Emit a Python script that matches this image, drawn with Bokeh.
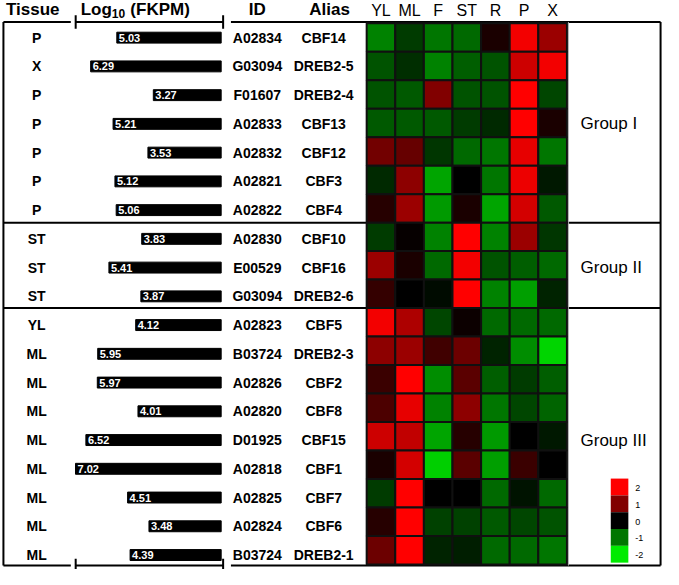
from bokeh.plotting import figure
from bokeh.models import Range1d, LinearColorMapper, ColumnDataSource
from bokeh.transform import transform
from bokeh.core.properties import value
from bokeh.embed import file_html
from bokeh.resources import INLINE

# ---------------- data ----------------
tissues = ["P", "X", "P", "P", "P", "P", "P", "ST", "ST", "ST",
           "YL", "ML", "ML", "ML", "ML", "ML", "ML", "ML", "ML"]
fkpm = [5.03, 6.29, 3.27, 5.21, 3.53, 5.12, 5.06, 3.83, 5.41, 3.87,
        4.12, 5.95, 5.97, 4.01, 6.52, 7.02, 4.51, 3.48, 4.39]
gene_ids = ["A02834", "G03094", "F01607", "A02833", "A02832", "A02821", "A02822",
            "A02830", "E00529", "G03094", "A02823", "B03724", "A02826", "A02820",
            "D01925", "A02818", "A02825", "A02824", "B03724"]
aliases = ["CBF14", "DREB2-5", "DREB2-4", "CBF13", "CBF12", "CBF3", "CBF4",
           "CBF10", "CBF16", "DREB2-6", "CBF5", "DREB2-3", "CBF2", "CBF8",
           "CBF15", "CBF1", "CBF7", "CBF6", "DREB2-1"]
tissue_cols = ["YL", "ML", "F", "ST", "R", "P", "X"]
# heatmap values, one row per gene, columns follow tissue_cols
heat_values = [
    [-1.1, -0.5, -1.0, -0.9, 0.2, 1.9, 1.2],
    [-0.7, -0.4, -1.1, -0.8, -0.7, 1.6, 1.9],
    [-0.7, -0.75, 1.0, -0.7, -0.7, 2.0, -0.6],
    [-0.75, -0.75, -0.75, -0.5, -0.35, 2.0, 0.2],
    [0.9, 0.8, -0.45, -0.9, -1.0, 1.8, -1.0],
    [-0.35, 1.1, -1.4, 0.0, -1.0, 1.85, -0.2],
    [0.3, 1.2, -1.3, 0.2, -1.4, 1.65, -0.75],
    [-0.5, 0.05, -1.1, 2.0, -1.1, 1.2, -0.45],
    [1.2, 0.2, -0.9, 1.9, -0.7, -0.8, -0.9],
    [0.4, 0.0, -0.1, 2.0, -1.1, -1.35, -0.3],
    [1.9, 1.35, -0.6, 0.1, -0.9, -0.9, -0.9],
    [1.1, 1.2, 0.5, 0.85, -0.3, -1.2, -1.8],
    [0.45, 2.0, -1.2, 0.7, -0.8, -0.5, -0.8],
    [0.6, 1.8, -1.1, 1.1, -1.0, -0.6, -0.85],
    [1.6, 1.5, -1.4, 0.3, -1.3, 0.0, -0.2],
    [0.2, 1.65, -1.75, 0.7, -1.35, 0.45, 0.0],
    [-0.5, 2.0, 0.0, 0.0, -0.9, -0.15, -0.9],
    [0.3, 2.0, -0.55, -0.55, -0.75, -0.6, -0.7],
    [0.85, 2.0, -0.3, -0.25, -0.9, -0.9, -1.0],
]
group_names = ["Group I", "Group II", "Group III"]
group_sizes = [7, 3, 9]
legend_values = [2, 1, 0, -1, -2]

# ---------------- layout constants (reference pixel space) ----------------
W, H = 663, 569
X_LO, X_HI = 0, 679
Y_BOT, Y_TOP = 582, 0
HEAT_X0, HEAT_CW = 375.0, 29.3
HEAT_Y0, HEAT_RH = 23.3, 29.13
TXT_Y0, TXT_RH = 38.0, 29.4
BAR_RIGHT, BAR_UNIT = 226.0, 21.25
BOX_L, BOX_R, BOX_T, BOX_B = 3, 676, 22, 578
BRK_L, BRK_R = 77, 228
HEADER_Y = 9.5
FONT = value("Liberation Sans")


def mk_range(a, pa, b, pb, lo, hi):
    k = (b - a) / (pb - pa)
    return Range1d(start=a + (lo - pa) * k, end=a + (hi - pa) * k)


p = figure(width=W, height=H, x_range=Range1d(X_LO, X_HI), y_range=Range1d(Y_BOT, Y_TOP),
           output_backend="svg", toolbar_location=None, min_border=0,
           x_axis_location=None, y_axis_location=None, outline_line_color=None,
           background_fill_color="white", border_fill_color="white")
p.xgrid.visible = False
p.ygrid.visible = False

p.extra_x_ranges = {
    "hx": mk_range(0, HEAT_X0 + 0.5 * HEAT_CW, 1, HEAT_X0 + 1.5 * HEAT_CW, X_LO, X_HI),
    "bx": mk_range(0, BAR_RIGHT, 1, BAR_RIGHT - BAR_UNIT, X_LO, X_HI),
}
p.extra_y_ranges = {
    "hy": mk_range(0, HEAT_Y0 + 0.5 * HEAT_RH, 1, HEAT_Y0 + 1.5 * HEAT_RH, Y_BOT, Y_TOP),
    "ty": mk_range(0, TXT_Y0, 1, TXT_Y0 + TXT_RH, Y_BOT, Y_TOP),
}

# palette red-black-green
palette = []
N = 255
for i in range(N):
    v = -2 + 4 * i / (N - 1)
    if v >= 0:
        palette.append("#%02x%02x%02x" % (int(round(255 * v / 2)), 0, 0))
    else:
        palette.append("#%02x%02x%02x" % (0, int(round(235 * (-v) / 2)), 0))
mapper = LinearColorMapper(palette=palette, low=-2, high=2)

# ---------------- box lines ----------------
LW = 2
seg_x0 = [BOX_L, BOX_R, BOX_L, BRK_R + 8, BOX_L, BRK_R + 8, BRK_L, BRK_L, BRK_L, BRK_L, BRK_R, BRK_R]
seg_x1 = [BOX_L, BOX_R, BRK_L - 5, BOX_R, BRK_L - 5, BOX_R, BRK_R, BRK_R, BRK_L, BRK_L, BRK_R, BRK_R]
seg_y0 = [BOX_T, BOX_T, BOX_T, BOX_T, BOX_B, BOX_B, BOX_T, BOX_B, BOX_T - 7, BOX_B - 7, BOX_T - 7, BOX_B - 7]
seg_y1 = [BOX_B, BOX_B, BOX_T, BOX_T, BOX_B, BOX_B, BOX_T, BOX_B, BOX_T + 7, BOX_B + 7, BOX_T + 7, BOX_B + 7]
p.segment(x0=seg_x0, y0=seg_y0, x1=seg_x1, y1=seg_y1, line_color="black", line_width=LW)

# group separators
bounds = []
acc = 0
for s in group_sizes[:-1]:
    acc += s
    bounds.append(acc - 0.5)
p.segment(x0=[BOX_L] * len(bounds), x1=[BOX_R] * len(bounds), y0=bounds, y1=bounds,
          y_range_name="hy", line_color="black", line_width=LW)

# grey line right of heatmap
p.segment(x0=[HEAT_X0 + 7 * HEAT_CW + 1.5], x1=[HEAT_X0 + 7 * HEAT_CW + 1.5],
          y0=[BOX_T], y1=[BOX_B], line_color="#b0b0b0", line_width=1)

# ---------------- heatmap ----------------
hc, hr, hv = [], [], []
for r, row in enumerate(heat_values):
    for c, v in enumerate(row):
        hc.append(c)
        hr.append(r)
        hv.append(v)
hsrc = ColumnDataSource(dict(c=hc, r=hr, v=hv))
p.rect(x="c", y="r", width=1, height=1, source=hsrc, x_range_name="hx", y_range_name="hy",
       fill_color=transform("v", mapper), line_color="#101010", line_width=2)

# column labels
p.text(x=list(range(len(tissue_cols))), y=[HEADER_Y + 1] * len(tissue_cols), text=tissue_cols,
       x_range_name="hx", text_align="center", text_baseline="middle",
       text_font=FONT, text_font_size="16px", text_color="black")

# ---------------- left table ----------------
rows = list(range(len(tissues)))
tsrc = ColumnDataSource(dict(row=rows, tissue=tissues, fkpm=fkpm,
                             lab=["%.2f" % v for v in fkpm], gid=gene_ids, alias=aliases,
                             zero=[0] * len(rows)))
p.hbar(y="row", left="fkpm", right="zero", height=0.38, source=tsrc,
       x_range_name="bx", y_range_name="ty", fill_color="black", line_color="black")
p.text(x="fkpm", y="row", text="lab", source=tsrc, x_range_name="bx", y_range_name="ty",
       x_offset=2, text_align="left", text_baseline="middle", text_font=FONT,
       text_font_style="bold", text_font_size="11px", text_color="white")
p.text(x=[37] * len(rows), y=rows, text=tissues, y_range_name="ty", text_align="center",
       text_baseline="middle", text_font=FONT, text_font_style="bold",
       text_font_size="14px", text_color="black")
p.text(x=[263] * len(rows), y=rows, text=gene_ids, y_range_name="ty", text_align="center",
       text_baseline="middle", text_font=FONT, text_font_style="bold",
       text_font_size="14px", text_color="black")
p.text(x=[331] * len(rows), y=rows, text=aliases, y_range_name="ty", text_align="center",
       text_baseline="middle", text_font=FONT, text_font_style="bold",
       text_font_size="14px", text_color="black")

# headers
p.text(x=[33], y=[HEADER_Y], text=["Tissue"], text_align="center", text_baseline="middle",
       text_font=FONT, text_font_style="bold", text_font_size="17px")
p.text(x=[114], y=[HEADER_Y], text=["Log"], text_align="right", text_baseline="middle",
       text_font=FONT, text_font_style="bold", text_font_size="17px")
p.text(x=[114], y=[HEADER_Y + 4], text=["10"], text_align="left", text_baseline="middle",
       text_font=FONT, text_font_style="bold", text_font_size="12px")
p.text(x=[133], y=[HEADER_Y], text=["(FKPM)"], text_align="left", text_baseline="middle",
       text_font=FONT, text_font_style="bold", text_font_size="17px")
p.text(x=[263, 337], y=[HEADER_Y, HEADER_Y], text=["ID", "Alias"], text_align="center",
       text_baseline="middle", text_font=FONT, text_font_style="bold", text_font_size="17px")

# group labels
gy = []
acc = 0
for s in group_sizes:
    gy.append(acc + (s - 1) / 2)
    acc += s
p.text(x=[594] * len(group_names), y=gy, text=group_names, y_range_name="ty",
       text_align="left", text_baseline="middle", text_font=FONT, text_font_size="17px")

# colour key
CB_X, CB_W, CB_TOP, CB_H = 634, 18, 489, 17.2
cb_y = [CB_TOP + (i + 0.5) * CB_H for i in range(len(legend_values))]
csrc = ColumnDataSource(dict(x=[CB_X] * len(legend_values), y=cb_y, v=legend_values))
p.rect(x="x", y="y", width=CB_W, height=CB_H, source=csrc,
       fill_color=transform("v", mapper), line_color=None)
p.text(x=[650] * len(legend_values), y=[yy + 1 for yy in cb_y], text=[str(v) for v in legend_values],
       text_align="left", text_baseline="middle", text_font=FONT, text_font_size="9px")

open("out.html", "w").write(file_html(p, INLINE))
